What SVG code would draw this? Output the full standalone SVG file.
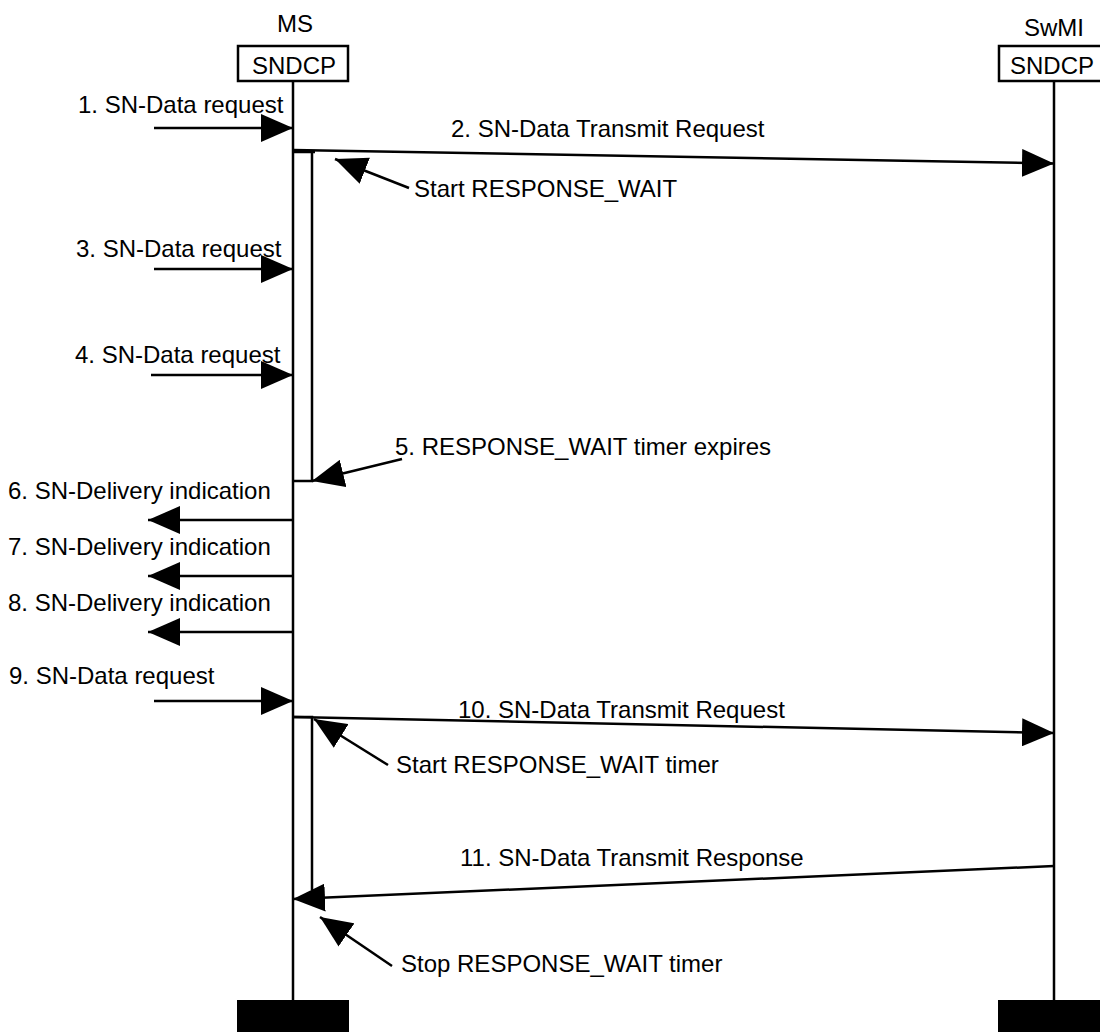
<svg xmlns="http://www.w3.org/2000/svg" width="1100" height="1032" viewBox="0 0 1100 1032">
<style>
  text { font-family: "Liberation Sans", Arial, sans-serif; font-size: 24px; fill: #000; }
  .ln { stroke: #000; stroke-width: 2.5; fill: none; }
  .box { stroke: #000; stroke-width: 2.5; fill: #fff; }
  .msg { stroke: #000; stroke-width: 2.5; fill: none; marker-end: url(#ah); }
</style>
<defs>
  <marker id="ah" viewBox="0 0 32 28" refX="32" refY="14" markerWidth="32" markerHeight="28" markerUnits="userSpaceOnUse" orient="auto">
    <path d="M0,0 L32,14 L0,28 Z" fill="#000"/>
  </marker>
</defs>
<rect width="1100" height="1032" fill="#fff"/>

<g id="ms">
  <text x="295" y="32" text-anchor="middle">MS</text>
  <line class="ln" x1="293" y1="81" x2="293" y2="1000"/>
  <rect class="box" x="238" y="46" width="110" height="35"/>
  <text x="294" y="74" text-anchor="middle">SNDCP</text>
  <rect x="237" y="1000" width="112" height="32" fill="#000"/>
</g>

<g id="swmi">
  <text x="1054" y="36" text-anchor="middle">SwMI</text>
  <line class="ln" x1="1054" y1="81" x2="1054" y2="1000"/>
  <rect class="box" x="999" y="46" width="110" height="35"/>
  <text x="1052" y="74" text-anchor="middle">SNDCP</text>
  <rect x="998" y="1000" width="110" height="32" fill="#000"/>
</g>

<g id="timer1">
  <polyline class="ln" points="293,152 315,152"/>
  <polyline class="ln" points="312,152 312,481 293,481"/>
</g>

<g id="timer2">
  <polyline class="ln" points="293,717 312,717 312,890"/>
</g>

<g id="connectors">
  <line class="msg" x1="154" y1="128" x2="293" y2="128"/>
  <line class="msg" x1="293" y1="150" x2="1054" y2="163.5"/>
  <line class="msg" x1="409" y1="188" x2="335" y2="159"/>
  <line class="msg" x1="154" y1="269" x2="293" y2="269"/>
  <line class="msg" x1="151" y1="375" x2="293" y2="375"/>
  <line class="msg" x1="402" y1="459" x2="312" y2="481"/>
  <line class="msg" x1="293" y1="520" x2="148" y2="520"/>
  <line class="msg" x1="293" y1="576" x2="148" y2="576"/>
  <line class="msg" x1="293" y1="632" x2="148" y2="632"/>
  <line class="msg" x1="154" y1="701" x2="293" y2="701"/>
  <line class="msg" x1="293" y1="717" x2="1054" y2="733"/>
  <line class="msg" x1="388" y1="765" x2="314" y2="719"/>
  <line class="msg" x1="1054" y1="866" x2="293" y2="899"/>
  <line class="msg" x1="392" y1="966" x2="320" y2="917"/>
</g>

<g id="labels">
  <text x="78" y="113">1. SN-Data request</text>
  <text x="451" y="137">2. SN-Data Transmit Request</text>
  <text x="414" y="197">Start RESPONSE_WAIT</text>
  <text x="76" y="257">3. SN-Data request</text>
  <text x="75" y="363">4. SN-Data request</text>
  <text x="395" y="455">5. RESPONSE_WAIT timer expires</text>
  <text x="8" y="499">6. SN-Delivery indication</text>
  <text x="8" y="555">7. SN-Delivery indication</text>
  <text x="8" y="611">8. SN-Delivery indication</text>
  <text x="9" y="684">9. SN-Data request</text>
  <text x="458" y="718">10. SN-Data Transmit Request</text>
  <text x="396" y="773">Start RESPONSE_WAIT timer</text>
  <text x="460" y="866">11. SN-Data Transmit Response</text>
  <text x="401" y="972">Stop RESPONSE_WAIT timer</text>
</g>
</svg>
